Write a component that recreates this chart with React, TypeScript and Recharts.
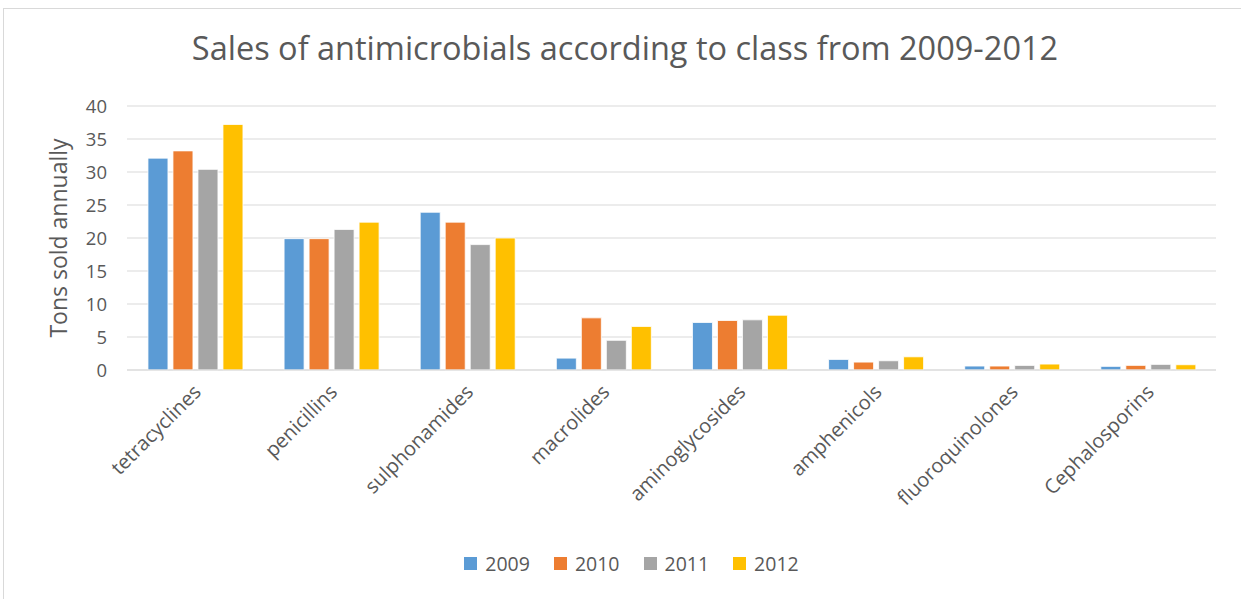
import { BarChart, Bar, XAxis, YAxis, CartesianGrid, Legend, Label } from 'recharts';

const CLASSES = [
  'tetracyclines',
  'penicillins',
  'sulphonamides',
  'macrolides',
  'aminoglycosides',
  'amphenicols',
  'fluoroquinolones',
  'Cephalosporins',
];
const Y2009 = [32.1, 19.9, 23.9, 1.8, 7.2, 1.6, 0.6, 0.55];
const Y2010 = [33.2, 19.9, 22.4, 7.9, 7.5, 1.2, 0.6, 0.7];
const Y2011 = [30.4, 21.3, 19.0, 4.5, 7.6, 1.4, 0.7, 0.85];
const Y2012 = [37.2, 22.4, 20.0, 6.6, 8.3, 2.0, 0.9, 0.8];
const YEARS = ['2009', '2010', '2011', '2012'];
const Y_TICKS = [0, 5, 10, 15, 20, 25, 30, 35, 40];

const COLORS = ['#5B9BD5', '#ED7D31', '#A5A5A5', '#FFC000'];
const FONT = '"Open Sans", sans-serif';
const TEXT = '#595959';

const data = CLASSES.map((name, i) => ({
  name,
  '2009': Y2009[i],
  '2010': Y2010[i],
  '2011': Y2011[i],
  '2012': Y2012[i],
}));

const CategoryTick = ({ x, y, payload }: any) => (
  <text
    x={x + 2}
    y={y + 10}
    transform={`rotate(-45 ${x + 2} ${y + 10})`}
    textAnchor="end"
    dominantBaseline="central"
    fill={TEXT}
    fontSize={20}
    fontFamily={FONT}
  >
    {payload.value}
  </text>
);

const YearLegend = () => (
  <div style={{ display: 'flex', justifyContent: 'center', paddingLeft: 22, fontFamily: FONT, fontSize: 19.5, color: TEXT }}>
    {YEARS.map((y, i) => (
      <div key={y} style={{ display: 'flex', alignItems: 'center', marginRight: i < 3 ? 24 : 0 }}>
        <span style={{ width: 13, height: 13, background: COLORS[i], display: 'inline-block', marginRight: 8 }} />
        <span>{y}</span>
      </div>
    ))}
  </div>
);

export default function App() {
  return (
    <div style={{ position: 'absolute', left: 0, top: 0, width: 1241, height: 599, background: '#fff', overflow: 'hidden' }}>
      <div style={{ position: 'absolute', left: 3, top: 8, width: 1300, height: 700, border: '1px solid #D9D9D9' }} />
      <div
        style={{
          position: 'absolute',
          left: 0,
          top: 25,
          width: 1250,
          textAlign: 'center',
          fontFamily: FONT,
          fontSize: 32.5,
          color: TEXT,
        }}
      >
        Sales of antimicrobials according to class from 2009-2012
      </div>
      <div style={{ position: 'absolute', left: 0, top: 0 }}>
        <BarChart
          width={1241}
          height={599}
          data={data}
          margin={{ top: 106, right: 25, bottom: 20, left: 67 }}
          barCategoryGap="15.4%"
          barGap={5}
        >
          <CartesianGrid vertical={false} stroke="#D9D9D9" strokeWidth={1.2} />
          <XAxis
            dataKey="name"
            tick={<CategoryTick />}
            tickLine={false}
            axisLine={{ stroke: '#D9D9D9', strokeWidth: 1.2 }}
            interval={0}
            height={209}
          />
          <YAxis
            width={60}
            domain={[0, 40]}
            ticks={Y_TICKS}
            tickLine={false}
            axisLine={false}
            tick={{ fill: TEXT, fontSize: 18.5, fontFamily: FONT }}
            tickMargin={14}
          >
            <Label
              value="Tons sold annually"
              angle={-90}
              position="insideLeft"
              offset={-8}
              style={{ textAnchor: 'middle', fill: TEXT, fontSize: 23, fontFamily: FONT }}
            />
          </YAxis>
          <Legend verticalAlign="middle" wrapperStyle={{ top: 550, left: 0, width: 1241 }} content={<YearLegend />} />
          {YEARS.map((y, i) => (
            <Bar key={y} dataKey={y} fill={COLORS[i]} stroke="#fff" strokeWidth={0.8} isAnimationActive={false} />
          ))}
        </BarChart>
      </div>
    </div>
  );
}
